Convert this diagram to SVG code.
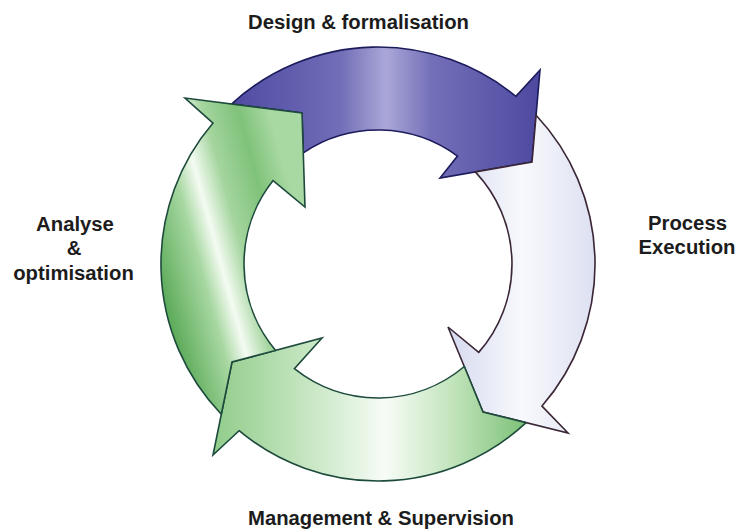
<svg xmlns="http://www.w3.org/2000/svg" width="736" height="530" viewBox="0 0 736 530">
<defs>
<style>
.lbl{font-family:"Liberation Sans",Arial,sans-serif;font-weight:bold;font-size:20.3px;fill:#1c1c1c;text-anchor:middle}
.arr{stroke-width:1.6;stroke-linejoin:miter}
</style>
<linearGradient id="gBlue" gradientUnits="userSpaceOnUse" x1="232" y1="0" x2="540" y2="0">
<stop offset="0" stop-color="#4f4ba2"/>
<stop offset="0.35" stop-color="#716db7"/>
<stop offset="0.5" stop-color="#aaa7d8"/>
<stop offset="0.65" stop-color="#736fb8"/>
<stop offset="1" stop-color="#4d49a0"/>
</linearGradient>
<linearGradient id="gLight" gradientUnits="userSpaceOnUse" x1="450" y1="0" x2="595" y2="0">
<stop offset="0" stop-color="#d6dbef"/>
<stop offset="0.5" stop-color="#f8f9fd"/>
<stop offset="1" stop-color="#dde0f1"/>
</linearGradient>
<linearGradient id="gGreenL" gradientUnits="userSpaceOnUse" x1="160" y1="280" x2="305" y2="240">
<stop offset="0" stop-color="#5fac5c"/>
<stop offset="0.28" stop-color="#a6d7a0"/>
<stop offset="0.42" stop-color="#f4fbf2"/>
<stop offset="0.58" stop-color="#a4d59e"/>
<stop offset="0.8" stop-color="#7fc27a"/>
<stop offset="1" stop-color="#a9d9a2"/>
</linearGradient>
<linearGradient id="gGreenB" gradientUnits="userSpaceOnUse" x1="213" y1="0" x2="526" y2="0">
<stop offset="0" stop-color="#90cc8a"/>
<stop offset="0.35" stop-color="#cfeacb"/>
<stop offset="0.55" stop-color="#f7fcf6"/>
<stop offset="0.75" stop-color="#c6e6c0"/>
<stop offset="1" stop-color="#7cc177"/>
</linearGradient>
</defs>
<rect width="736" height="530" fill="#ffffff"/>
<g id="connectors">
<g id="design">
<path class="arr" fill="url(#gBlue)" stroke="#1c1b5c" d="M 231.5,104 A 217 217 0 0 1 515.9,96.4 L 540,70 L 532,162 L 440,178 L 457.5,156.1 A 134 134 0 0 0 303.3,152.8 L 302,113 Z"/>
</g>
<g id="execution">
<path class="arr" fill="url(#gLight)" stroke="#3a2636" d="M 536.1,115.3 A 217 217 0 0 1 542,406.1 L 568,433 L 483,412 L 448,327 L 478.7,352.4 A 134 134 0 0 0 475.3,171.9 L 532,162 Z"/>
</g>
<g id="management">
<path class="arr" fill="url(#gGreenB)" stroke="#1d4a3c" d="M 526.1,422.6 A 217 217 0 0 1 239.1,430.7 L 213,455 L 232,362 L 322,338 L 294.4,368.7 A 134 134 0 0 0 464.3,366.5 L 483,412 Z"/>
</g>
<g id="analyse">
<path class="arr" fill="url(#gGreenL)" stroke="#1d4a3c" d="M 221.3,414.2 A 217 217 0 0 1 213,123.1 L 185,98 L 302,113 L 305,207 L 273.1,180.6 A 134 134 0 0 0 275.6,350.4 L 232,362 Z"/>
</g>
</g>
<g id="label-design"><text class="lbl" x="358.5" y="28.5">Design &amp; formalisation</text></g>
<g id="label-execution"><text class="lbl" x="687.5" y="230">Process</text><text class="lbl" x="687" y="254">Execution</text></g>
<g id="label-management"><text class="lbl" x="381" y="525">Management &amp; Supervision</text></g>
<g id="label-analyse"><text class="lbl" x="75" y="231">Analyse</text><text class="lbl" x="74" y="255">&amp;</text><text class="lbl" x="73.5" y="280">optimisation</text></g>
</svg>
